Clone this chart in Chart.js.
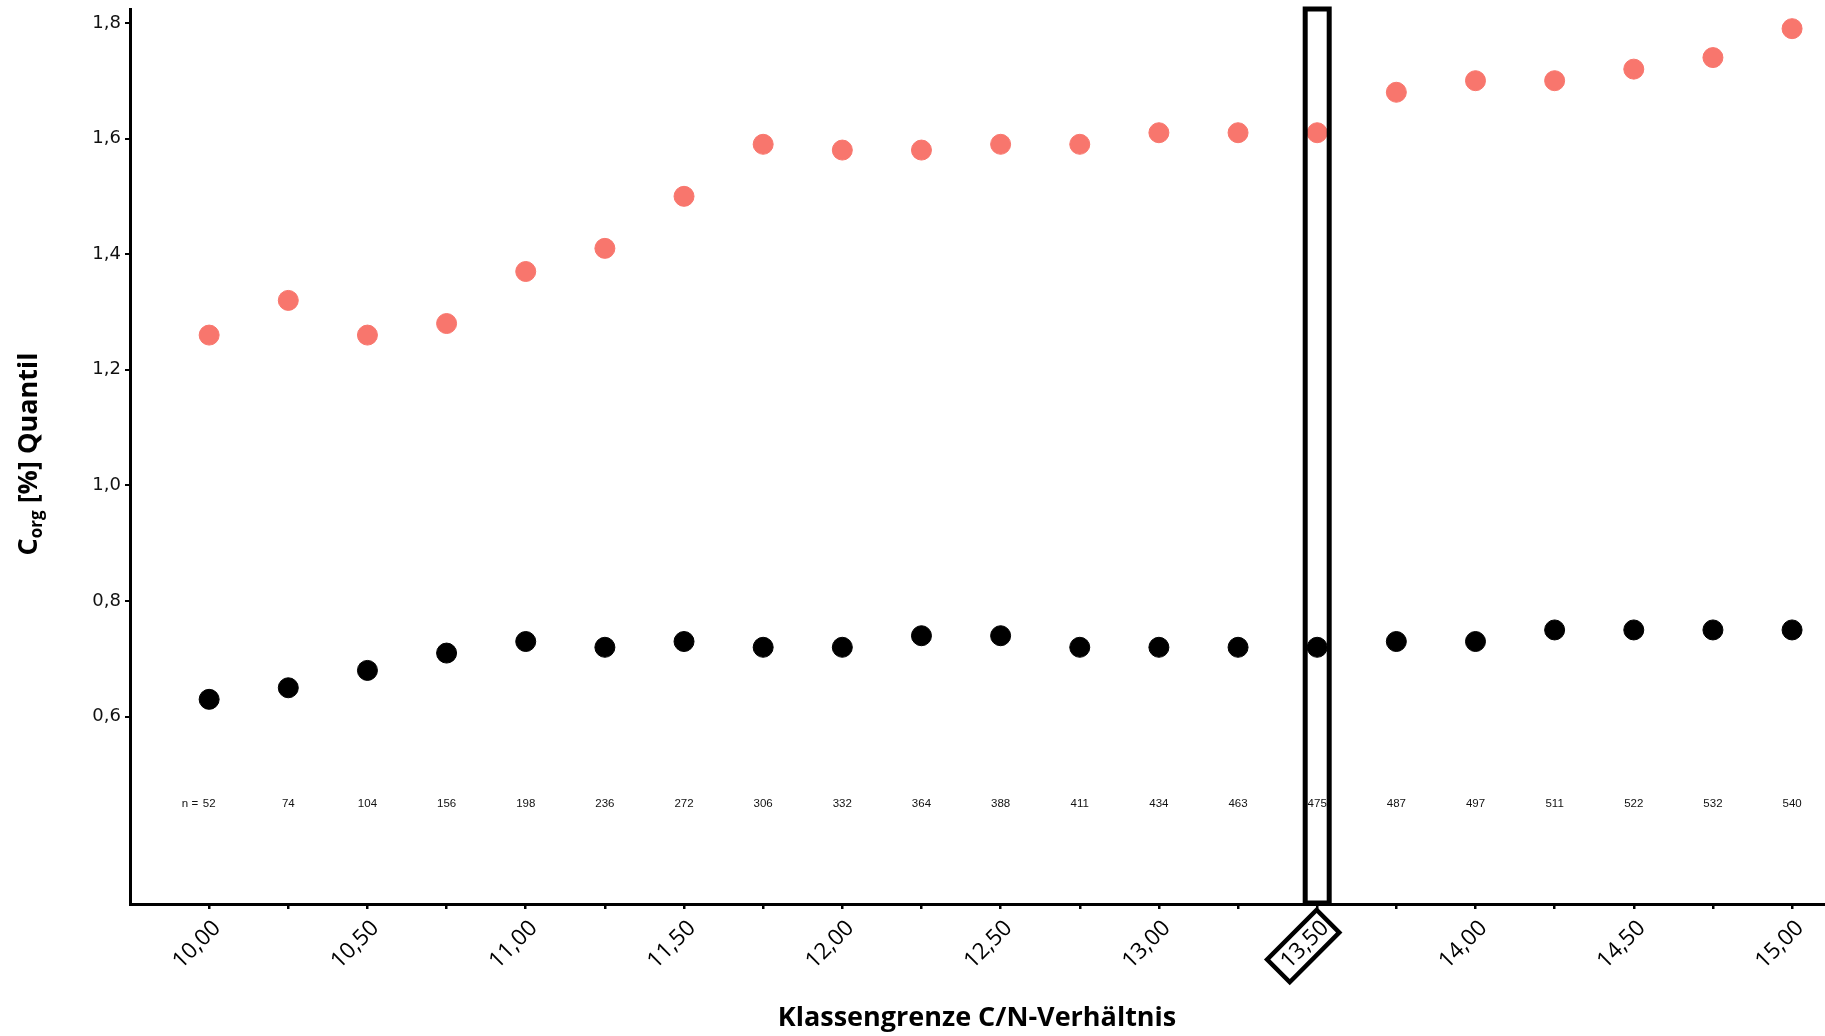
<!DOCTYPE html>
<html>
<head>
<meta charset="utf-8">
<script src="https://cdn.jsdelivr.net/npm/chart.js@4.4.0/dist/chart.umd.min.js"></script>
<style>
  body { margin: 0; background: #fff; }
  canvas { display: block; }
</style>
</head>
<body>
<canvas id="quantil" width="1825" height="1036"></canvas>
<script>
// Klassengrenzen (C/N-Verhältnis)
const klassengrenze = [10.00, 10.25, 10.50, 10.75, 11.00, 11.25, 11.50, 11.75, 12.00, 12.25, 12.50,
    12.75, 13.00, 13.25, 13.50, 13.75, 14.00, 14.25, 14.50, 14.75, 15.00];
// oberes Quantil (rot)
const quantilOben = [1.26, 1.32, 1.26, 1.28, 1.37, 1.41, 1.50, 1.59, 1.58, 1.58, 1.59,
    1.59, 1.61, 1.61, 1.61, 1.68, 1.70, 1.70, 1.72, 1.74, 1.79];
// unteres Quantil (schwarz)
const quantilUnten = [0.63, 0.65, 0.68, 0.71, 0.73, 0.72, 0.73, 0.72, 0.72, 0.74, 0.74,
    0.72, 0.72, 0.72, 0.72, 0.73, 0.73, 0.75, 0.75, 0.75, 0.75];
// Stichprobenumfang
const nWerte = [52, 74, 104, 156, 198, 236, 272, 306, 332, 364, 388, 411, 434, 463, 475, 487, 497, 511, 522, 532, 540];
// Achsenbeschriftung
const yTicks = [0.6, 0.8, 1.0, 1.2, 1.4, 1.6, 1.8];
const markierung = 13.50;
const nZeile = 0.45;

const komma = (v, d) => v.toFixed(d).replace('.', ',');

// Zusatz: n-Werte, Markierung, Achsentitel
const extras = {
    id: 'extras',
    afterDatasetsDraw(chart) {
        const ctx = chart.ctx;
        const x = chart.scales.x, y = chart.scales.y;
        const area = chart.chartArea;
        ctx.save();
        // n-Werte
        ctx.fillStyle = '#111';
        ctx.font = '11.5px "Liberation Sans", Arial, sans-serif';
        ctx.textAlign = 'center';
        ctx.textBaseline = 'middle';
        const yn = y.getPixelForValue(nZeile);
        klassengrenze.forEach((k, i) => ctx.fillText(String(nWerte[i]), x.getPixelForValue(k), yn));
        ctx.textAlign = 'right';
        ctx.fillText('n =', x.getPixelForValue(klassengrenze[0]) - 11, yn);

        // Markierung 13,50
        const xm = x.getPixelForValue(markierung);
        ctx.strokeStyle = '#000';
        ctx.lineWidth = 5;
        ctx.strokeRect(xm - 12, area.top, 24, area.bottom - area.top - 1);
        ctx.translate(xm - 14, area.bottom + 42);
        ctx.rotate(-Math.PI / 4);
        ctx.lineWidth = 4.5;
        ctx.strokeRect(-35, -16, 70, 32);
        ctx.restore();

        // Achsentitel x
        ctx.save();
        ctx.fillStyle = '#000';
        ctx.font = 'bold 27px "Open Sans", sans-serif';
        ctx.textAlign = 'center';
        ctx.textBaseline = 'middle';
        ctx.fillText('Klassengrenze C/N-Verhältnis', 977, 1018);

        // Achsentitel y mit Index
        ctx.translate(29, 454);
        ctx.rotate(-Math.PI / 2);
        const fGross = 'bold 27px "Open Sans", sans-serif';
        const fKlein = 'bold 17px "Open Sans", sans-serif';
        ctx.font = fGross;
        const wC = ctx.measureText('C').width;
        const wRest = ctx.measureText(' [%] Quantil').width;
        ctx.font = fKlein;
        const wOrg = ctx.measureText('org').width;
        let pos = -(wC + wOrg + wRest) / 2;
        ctx.textAlign = 'left';
        ctx.font = fGross;
        ctx.fillText('C', pos, 0);
        pos += wC;
        ctx.font = fKlein;
        ctx.fillText('org', pos, 8);
        pos += wOrg;
        ctx.font = fGross;
        ctx.fillText(' [%] Quantil', pos, 0);
        ctx.restore();
    }
};

const ctx = document.getElementById('quantil').getContext('2d');
const chart = new Chart(ctx, {
    type: 'scatter',
    data: {
        datasets: [{
            label: 'oberes Quantil',
            data: klassengrenze.map((k, i) => ({ x: k, y: quantilOben[i] })),
            backgroundColor: '#F8766D',
            borderColor: '#F8766D',
            pointRadius: 10
        }, {
            label: 'unteres Quantil',
            data: klassengrenze.map((k, i) => ({ x: k, y: quantilUnten[i] })),
            backgroundColor: '#000',
            borderColor: '#000',
            pointRadius: 10
        }]
    },
    options: {
        responsive: false,
        animation: false,
        layout: { autoPadding: false, padding: { top: 9, right: 0, bottom: 0, left: 0 } },
        plugins: { legend: { display: false }, tooltip: { enabled: false } },
        scales: {
            x: {
                type: 'linear',
                min: 9.75,
                max: 15.104,
                afterBuildTicks: s => { s.ticks = klassengrenze.map(v => ({ value: v })); },
                afterFit: s => { s.height = 132; s.paddingLeft = 0; s.paddingRight = 0; },
                ticks: {
                    autoSkip: false,
                    maxRotation: 45,
                    minRotation: 45,
                    padding: 6,
                    labelOffset: 8,
                    color: '#000',
                    font: { family: '"Open Sans", sans-serif', size: 22.5 },
                    callback: v => (Math.round(v * 100) % 50 === 0 ? komma(v, 2) : '')
                },
                grid: { drawOnChartArea: false, drawTicks: true, tickLength: 5, color: '#000', lineWidth: 2.5 },
                border: { display: true, color: '#000', width: 3 }
            },
            y: {
                min: 0.276,
                max: 1.824,
                afterBuildTicks: s => { s.ticks = yTicks.map(v => ({ value: v })); },
                afterFit: s => { s.width = 130; s.paddingTop = 0; s.paddingBottom = 0; },
                ticks: {
                    padding: 4,
                    color: '#111',
                    font: { family: '"DejaVu Sans", sans-serif', size: 18 },
                    callback: v => komma(v, 1)
                },
                grid: { drawOnChartArea: false, drawTicks: true, tickLength: 5, color: '#000', lineWidth: 2 },
                border: { display: true, color: '#000', width: 3 }
            }
        }
    },
    plugins: [extras]
});
</script>
</body>
</html>
